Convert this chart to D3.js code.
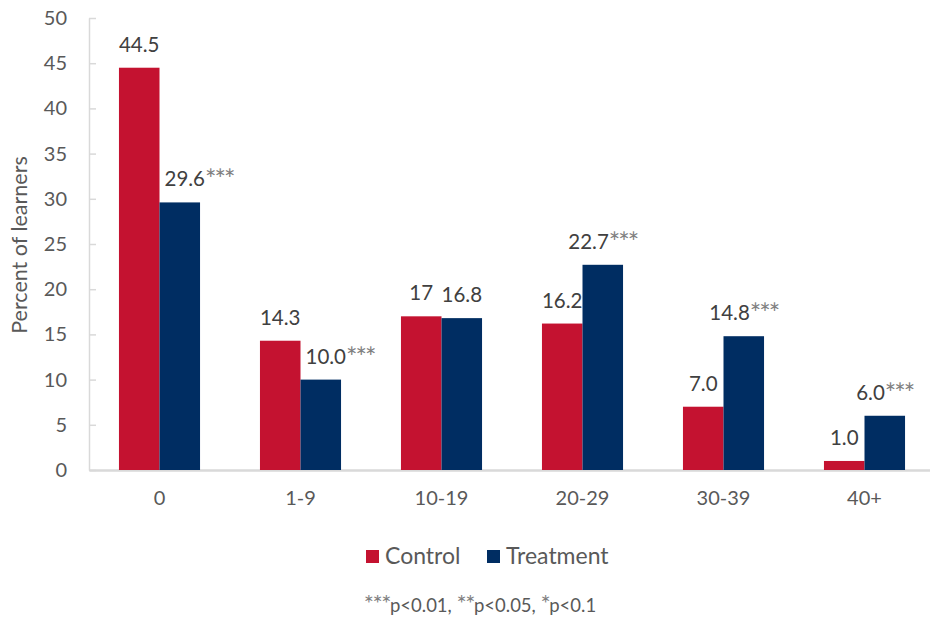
<!DOCTYPE html>
<html>
<head>
<meta charset="utf-8">
<script src="https://cdn.jsdelivr.net/npm/d3@7"></script>
<style>
	body { margin: 0; background: #fff; }
	text { font-family: "Lato", "Open Sans", sans-serif; }
</style>
</head>
<body>
<div id="chart"></div>
<script>
var categories = ["0", "1-9", "10-19", "20-29", "30-39", "40+"];
var seriesNames = ["Control", "Treatment"];
var control = [44.5, 14.3, 17, 16.2, 7.0, 1.0];
var treatment = [29.6, 10.0, 16.8, 22.7, 14.8, 6.0];
var controlLabels = ["44.5", "14.3", "17", "16.2", "7.0", "1.0"];
var treatmentLabels = ["29.6", "10.0", "16.8", "22.7", "14.8", "6.0"];
var treatmentStars = ["***", "***", "", "***", "***", "***"];
var yTicks = [0, 5, 10, 15, 20, 25, 30, 35, 40, 45, 50];
var footnote = "***p<0.01, **p<0.05, *p<0.1";

var width = 930, height = 620;
var colors = { "Control": "#c41230", "Treatment": "#002d62" };
var textColor = "#404040";

var svg = d3.select("#chart").append("svg")
	.attr("width", width).attr("height", height);

var y = d3.scaleLinear().domain([0, 50]).range([470, 18]);
var x0 = d3.scaleBand().domain(categories).range([89, 935])
	.paddingInner(0.425).paddingOuter(0.2125);
var x1 = d3.scaleBand().domain(seriesNames).range([0, x0.bandwidth()]);

// y axis, ticks point inward like the excel original
var yAxis = svg.append("g").attr("transform", "translate(89,0)")
	.call(d3.axisLeft(y).tickValues(yTicks).tickSizeInner(-7).tickSizeOuter(0).tickPadding(22));
yAxis.selectAll("path, line").attr("stroke", "#d9d9d9").attr("stroke-width", 1.5);
yAxis.selectAll("text").attr("font-size", "20px").attr("fill", "#595959")
	.style("font-family", "Lato, sans-serif");

// x axis
var xAxis = svg.append("g").attr("transform", "translate(0,470)")
	.call(d3.axisBottom(x0).tickSize(0).tickPadding(21));
xAxis.select("path").attr("stroke", "#d9d9d9").attr("stroke-width", 2.5);
xAxis.selectAll("text").attr("font-size", "20px").attr("fill", "#595959")
	.style("font-family", "Lato, sans-serif");

svg.append("text")
	.attr("transform", "translate(27,245) rotate(-90)")
	.attr("text-anchor", "middle")
	.attr("font-size", "21.5px").attr("fill", "#595959")
	.text("Percent of learners");

var rows = categories.map(function(c, i) {
	return { cat: c, i: i, vals: [
		{ key: "Control", v: control[i], label: controlLabels[i], stars: "" },
		{ key: "Treatment", v: treatment[i], label: treatmentLabels[i], stars: treatmentStars[i] }
	] };
});

var groups = svg.selectAll("g.group").data(rows).enter().append("g")
	.attr("class", "group")
	.attr("transform", function(d) { return "translate(" + x0(d.cat) + ",0)"; });

groups.selectAll("rect").data(function(d) { return d.vals; }).enter().append("rect")
	.attr("x", function(d) { return x1(d.key); })
	.attr("y", function(d) { return y(d.v); })
	.attr("width", x1.bandwidth())
	.attr("height", function(d) { return y(0) - y(d.v); })
	.attr("fill", function(d) { return colors[d.key]; });

// value labels; treatment labels are pushed right when the red bar next to them is taller
groups.each(function(row) {
	var g = d3.select(this);
	row.vals.forEach(function(d) {
		var other = row.vals[0].v;
		var shift = d.key === "Treatment" && other - d.v > 2.5;
		var t = g.append("text")
			.attr("y", y(d.v) - 16)
			.attr("font-size", "20.5px").attr("fill", textColor);
		if (shift) {
			t.attr("x", x1(d.key) + 5).attr("text-anchor", "start");
		} else {
			t.attr("x", x1(d.key) + x1.bandwidth() / 2).attr("text-anchor", "middle");
		}
		t.append("tspan").text(d.label);
		if (d.stars) {
			t.append("tspan").attr("fill", "#808080").attr("font-size", "27px")
				.attr("letter-spacing", "-2px").attr("dy", 3).text(d.stars);
		}
	});
});

// legend
var legend = svg.append("g");
var legendX = [366, 487];
seriesNames.forEach(function(name, i) {
	legend.append("rect").attr("x", legendX[i]).attr("y", 550)
		.attr("width", 13).attr("height", 13).attr("fill", colors[name]);
	legend.append("text").attr("x", legendX[i] + 19).attr("y", 564)
		.attr("font-size", "23px").attr("fill", "#595959").text(name);
});

// footnote, stars drawn lighter
var fn = svg.append("text").attr("x", 480).attr("y", 612)
	.attr("text-anchor", "middle").attr("font-size", "18.5px").attr("fill", "#595959");
footnote.split(/(\*+)/).forEach(function(part) {
	if (part === "") return;
	var s = fn.append("tspan").text(part);
	if (part[0] === "*") s.attr("fill", "#808080").attr("font-size", "24px").attr("letter-spacing", "-1.5px");
});
</script>
</body>
</html>
